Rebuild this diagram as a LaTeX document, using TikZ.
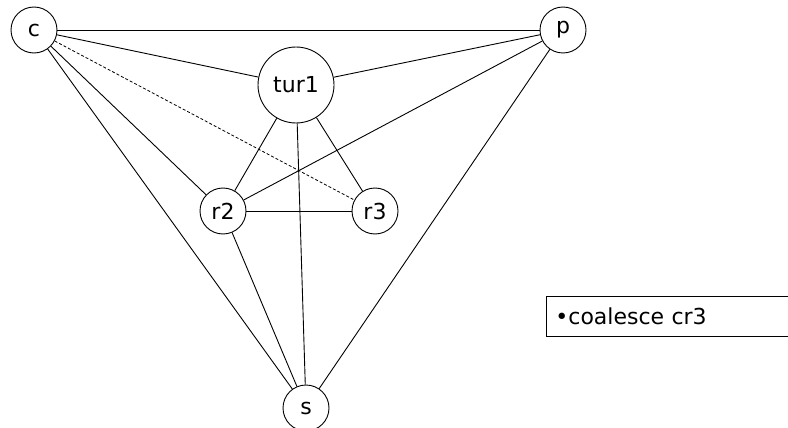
\documentclass[tikz,border=0pt]{standalone}
\usepackage{fontspec}
\setmainfont{DejaVu Sans}
\begin{document}
\begin{tikzpicture}[x=1pt,y=-1pt,
  vtx/.style={draw,circle,line width=0.9pt,inner sep=0pt,minimum size=46pt,font=\fontsize{22}{24}\selectfont},
  big/.style={vtx,minimum size=76pt},
  edge/.style={line width=0.9pt},
  dedge/.style={line width=0.8pt,dash pattern=on 3pt off 2pt}]
\useasboundingbox (0,0) rectangle (788,428);
\clip (0,0) rectangle (788,428);
\node[vtx] (c) at (34,30) {c};
\node[vtx] (p) at (563,30) {p};
\node[big] (t) at (296,85) {tur1};
\node[vtx] (r2) at (223,211) {r2};
\node[vtx] (r3) at (375,211) {r3};
\node[vtx] (s) at (306,408) {s};
\draw[edge] (c) -- (p);
\draw[edge] (c) -- (t);
\draw[edge] (c) -- (r2);
\draw[edge] (c) -- (s);
\draw[dedge] (c) -- (r3);
\draw[edge] (t) -- (p);
\draw[edge] (t) -- (r2);
\draw[edge] (t) -- (r3);
\draw[edge] (t) -- (s);
\draw[edge] (r2) -- (p);
\draw[edge] (r2) -- (r3);
\draw[edge] (r2) -- (s);
\draw[edge] (p) -- (s);
\node[draw,line width=0.9pt,anchor=north west,minimum width=260pt,minimum height=40pt,inner sep=0pt,
  font=\fontsize{22}{24}\selectfont,text width=250pt,align=left] (box) at (546,296) {\hspace*{4pt}\textbullet coalesce cr3};
\end{tikzpicture}
\end{document}
